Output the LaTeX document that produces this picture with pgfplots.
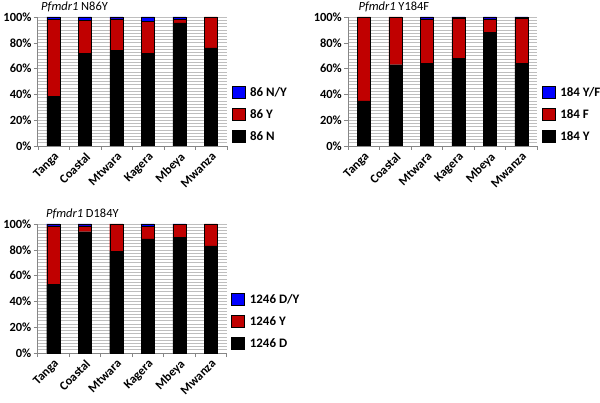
\documentclass[border=0pt]{standalone}
\usepackage{pgfplots}
\pgfplotsset{compat=1.18}
\usepackage{fontspec}
\setmainfont{Carlito}
\definecolor{myred}{RGB}{192,0,0}
\definecolor{myblue}{RGB}{0,0,255}
\definecolor{gridc}{RGB}{190,190,190}
\definecolor{axc}{RGB}{134,134,134}
\pgfplotsset{
  mystack/.style={
    ybar stacked,
    scale only axis,
    width=189bp, height=129bp,
    xmin=-0.5, xmax=5.5,
    ymin=0, ymax=100,
    bar width=13bp,
    axis lines*=left,
    axis line style={axc, line width=0.6pt},
    xtick={0,1,2,3,4,5},
    xticklabels={Tanga,Coastal,Mtwara,Kagera,Mbeya,Mwanza},
    major x tick style={draw=none},
    minor xtick={-0.5,0.5,1.5,2.5,3.5,4.5,5.5},
    minor x tick style={axc},
    minor tick length=4bp,
    ytick={0,20,40,60,80,100},
    yticklabels={0\%,20\%,40\%,60\%,80\%,100\%},
    minor y tick num=7,
    ymajorgrids, yminorgrids,
    major grid style={gridc, line width=0.6pt},
    minor grid style={gridc, line width=0.6pt},
    major y tick style={axc},
    minor y tick style={draw=none},
    major tick length=4bp,
    tick align=outside,
    xticklabel style={rotate=45, anchor=north east, font=\fontsize{12.5}{14}\selectfont\bfseries, inner sep=1bp},
    yticklabel style={font=\fontsize{12.5}{14}\selectfont\bfseries, inner sep=2bp},
    every axis plot/.append style={draw=black, line width=0.4pt},
    reverse legend,
    legend style={draw=none, fill=none, at={(1.025,0.245)}, anchor=west,
      font=\fontsize{13}{15}\selectfont\bfseries, row sep=7.5bp, inner sep=0pt,
      cells={anchor=west},
      /tikz/every odd column/.append style={column sep=3bp}},
    legend image code/.code={\draw[#1] (0bp,-6bp) rectangle (13bp,6bp);},
    title style={font=\fontsize{12.5}{14}\selectfont, anchor=base west, at={(0,1)}, yshift=1bp},
  }
}
\begin{document}
\begin{tikzpicture}
\path[use as bounding box] (0bp,0bp) rectangle (600bp,403bp);
% Top-left: N86Y
\begin{axis}[mystack, at={(37.7bp,257bp)}, anchor=south west,
  title={\textit{Pfmdr1} N86Y}]
\addplot[fill=black] coordinates {(0,38.5) (1,72) (2,74) (3,72) (4,95.5) (5,76)};
\addplot[fill=myred] coordinates {(0,59.5) (1,25.5) (2,24.5) (3,24.5) (4,2.5) (5,24)};
\addplot[fill=myblue] coordinates {(0,2) (1,2.5) (2,1.5) (3,3.5) (4,2) (5,0)};
\legend{86 N, 86 Y, 86 N/Y}
\end{axis}
% Top-right: Y184F
\begin{axis}[mystack, at={(348bp,257bp)}, anchor=south west,
  title={\textit{Pfmdr1} Y184F}, title style={xshift=7bp}]
\addplot[fill=black] coordinates {(0,35) (1,63) (2,64) (3,68) (4,88) (5,64)};
\addplot[fill=myred] coordinates {(0,65) (1,37) (2,34.5) (3,31) (4,10.5) (5,35)};
\addplot[fill=myblue] coordinates {(0,0) (1,0) (2,1.5) (3,1) (4,1.5) (5,1)};
\legend{184 Y, 184 F, 184 Y/F}
\end{axis}
% Bottom-left: D1246Y
\begin{axis}[mystack, at={(37.5bp,50bp)}, anchor=south west,
  title={\textit{Pfmdr1} D184Y}, title style={xshift=5bp}]
\addplot[fill=black] coordinates {(0,53) (1,94) (2,79) (3,88.5) (4,89.5) (5,83)};
\addplot[fill=myred] coordinates {(0,45.5) (1,4.5) (2,21) (3,9.5) (4,10) (5,17)};
\addplot[fill=myblue] coordinates {(0,1.5) (1,1.5) (2,0) (3,2) (4,0.5) (5,0)};
\legend{1246 D, 1246 Y, 1246 D/Y}
\end{axis}
\end{tikzpicture}
\end{document}
